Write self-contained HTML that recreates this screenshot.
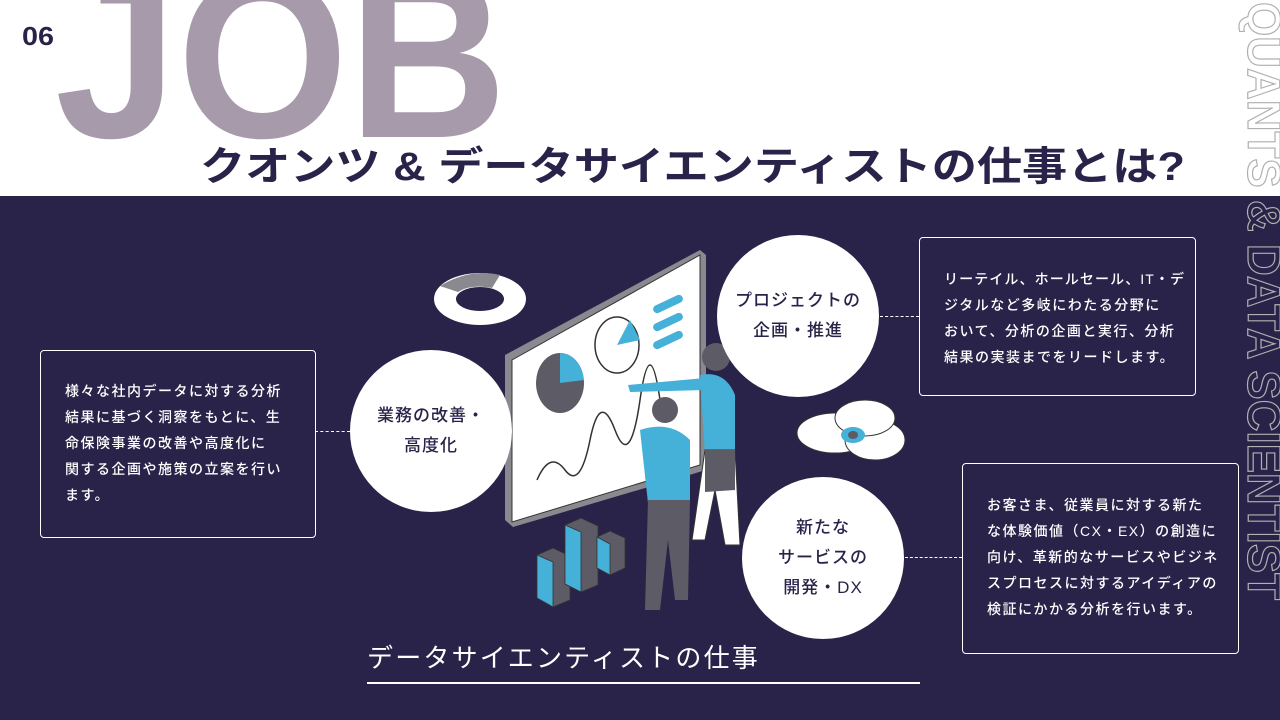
<!DOCTYPE html>
<html><head><meta charset="utf-8"><style>
body{margin:0;width:1280px;height:720px;overflow:hidden;position:relative;background:#fff;font-family:"Liberation Sans","Noto Sans CJK JP",sans-serif}
.nav{position:absolute;left:0;top:196px;width:1280px;height:524px;background:#2a2349}
.box{position:absolute;border:1.5px solid #fff;border-radius:4px;color:#fff;font-size:14px;line-height:26px;letter-spacing:1.5px;box-sizing:border-box;font-weight:500;white-space:nowrap}
.circ{position:absolute;background:#fff;border-radius:50%;color:#2a2349;font-size:17px;line-height:30px;text-align:center;display:flex;align-items:center;justify-content:center;font-weight:500;letter-spacing:1px}
.dash{position:absolute;border-top:1.5px dashed #fff;height:0}
</style></head><body>
<div class="nav"></div>
<svg width="1280" height="720" style="position:absolute;left:0;top:0">
<text x="55" y="137" font-family="Liberation Sans" font-weight="bold" font-size="232" fill="#a79aaa" textLength="452" lengthAdjust="spacingAndGlyphs">JOB</text>
<text x="22" y="45" font-family="Liberation Sans" font-weight="bold" font-size="26" fill="#2a2349" textLength="32" lengthAdjust="spacingAndGlyphs">06</text>
<text x="200" y="180" font-family="Liberation Sans, Noto Sans CJK JP, sans-serif" font-weight="bold" font-size="40" fill="#2a2349" textLength="985" lengthAdjust="spacingAndGlyphs">クオンツ &amp; データサイエンティストの仕事とは?</text>
<text transform="translate(1248,2) rotate(90)" font-family="Liberation Sans" font-weight="bold" font-size="46" fill="none" stroke="#b0b0b0" stroke-width="1.2" textLength="598" lengthAdjust="spacingAndGlyphs">QUANTS &amp; DATA SCIENTIST</text>
<ellipse cx="480" cy="299" rx="46" ry="26" fill="#fff"/><ellipse cx="480" cy="299" rx="24" ry="12" fill="#2a2349"/>
<path d="M440 286 Q470 268 500 275 L492 288 Q470 284 458 292Z" fill="#8a8990"/>
<polygon points="505,355 700,250 706,255 706,470 513,527 505,520" fill="#8a8990"/>
<polygon points="512,360 700,255 700,465 512,522" fill="#fff" stroke="#333" stroke-width="1"/>
<ellipse cx="560" cy="383" rx="24" ry="30" fill="#5d5b66"/><path d="M560 383 L560 353 A24 30 0 0 1 584 380Z" fill="#45b0d8"/>
<ellipse cx="617" cy="345" rx="22" ry="28" fill="#fff" stroke="#333" stroke-width="1.5"/><path d="M617 345 L630 320 L640 340Z" fill="#45b0d8"/>
<rect x="652" y="300" width="32" height="8" rx="4" fill="#45b0d8" transform="rotate(-25 668 304)"/>
<rect x="652" y="318" width="32" height="8" rx="4" fill="#45b0d8" transform="rotate(-25 668 322)"/>
<rect x="652" y="336" width="32" height="8" rx="4" fill="#45b0d8" transform="rotate(-25 668 340)"/>
<path d="M537 480 Q550 450 565 470 T590 440 T615 430 T640 400 T660 400" fill="none" stroke="#333" stroke-width="1.5"/>
<g stroke="#333" stroke-width="0.8"><polygon points="537,555 553,548 570,556 570,600 553,607 537,598" fill="#5d5b66"/><polygon points="537,555 553,562 553,607 537,598" fill="#45b0d8"/>
<polygon points="565,525 581,518 598,526 598,585 581,592 565,584" fill="#5d5b66"/><polygon points="565,525 581,532 581,592 565,584" fill="#45b0d8"/>
<polygon points="597,537 610,531 625,538 625,568 610,575 597,568" fill="#5d5b66"/><polygon points="597,537 610,544 610,575 597,568" fill="#45b0d8"/></g>
<circle cx="716" cy="357" r="14" fill="#5d5b66"/><path d="M700 375 Q725 370 735 395 L735 450 L705 455Z" fill="#45b0d8"/><path d="M628 385 L705 378 L705 390 L630 392Z" fill="#45b0d8"/>
<path d="M705 450 L735 450 L740 545 L725 545 L715 490 L705 540 L692 540Z" fill="#fff" stroke="#333"/><path d="M705 450 L735 450 L735 490 L705 492Z" fill="#5d5b66"/>
<circle cx="665" cy="410" r="13" fill="#5d5b66"/><path d="M640 430 Q670 420 690 440 L690 500 L648 503Z" fill="#45b0d8"/>
<path d="M648 500 L690 500 L688 600 L675 600 L668 540 L660 610 L645 610Z" fill="#5d5b66"/>
<g fill="#fff" stroke="#333" stroke-width="1"><ellipse cx="835" cy="433" rx="38" ry="20"/><ellipse cx="875" cy="440" rx="30" ry="20"/><ellipse cx="865" cy="418" rx="30" ry="18"/></g>
<ellipse cx="853" cy="435" rx="12" ry="8" fill="#45b0d8"/><ellipse cx="853" cy="435" rx="5" ry="4" fill="#5d5b66"/>
</svg>
<div class="circ" style="left:350px;top:350px;width:162px;height:162px">業務の改善・<br>高度化</div>
<div class="circ" style="left:717px;top:235px;width:162px;height:162px">プロジェクトの<br>企画・推進</div>
<div class="circ" style="left:742px;top:477px;width:162px;height:162px">新たな<br>サービスの<br>開発・DX</div>
<div class="dash" style="left:315px;top:431px;width:35px"></div>
<div class="dash" style="left:880px;top:316px;width:39px"></div>
<div class="dash" style="left:905px;top:557px;width:57px"></div>
<div class="box" style="left:40px;top:350px;width:276px;height:188px;padding:27px 0 0 24px">様々な社内データに対する分析<br>結果に基づく洞察をもとに、生<br>命保険事業の改善や高度化に<br>関する企画や施策の立案を行い<br>ます。</div>
<div class="box" style="left:919px;top:237px;width:277px;height:159px;padding:28px 0 0 24px"><span style="letter-spacing:1.1px">リーテイル、ホールセール、IT・デ</span><br>ジタルなど多岐にわたる分野に<br>おいて、分析の企画と実行、分析<br>結果の実装までをリードします。</div>
<div class="box" style="left:962px;top:463px;width:277px;height:191px;padding:28px 0 0 24px">お客さま、従業員に対する新た<br>な体験価値（CX・EX）の創造に<br>向け、革新的なサービスやビジネ<br>スプロセスに対するアイディアの<br>検証にかかる分析を行います。</div>
<div style="position:absolute;left:367px;top:638px;color:#fff;font-size:26px;letter-spacing:2.2px;white-space:nowrap">データサイエンティストの仕事</div>
<div style="position:absolute;left:367px;top:682px;width:553px;height:2px;background:#fff"></div>
</body></html>
